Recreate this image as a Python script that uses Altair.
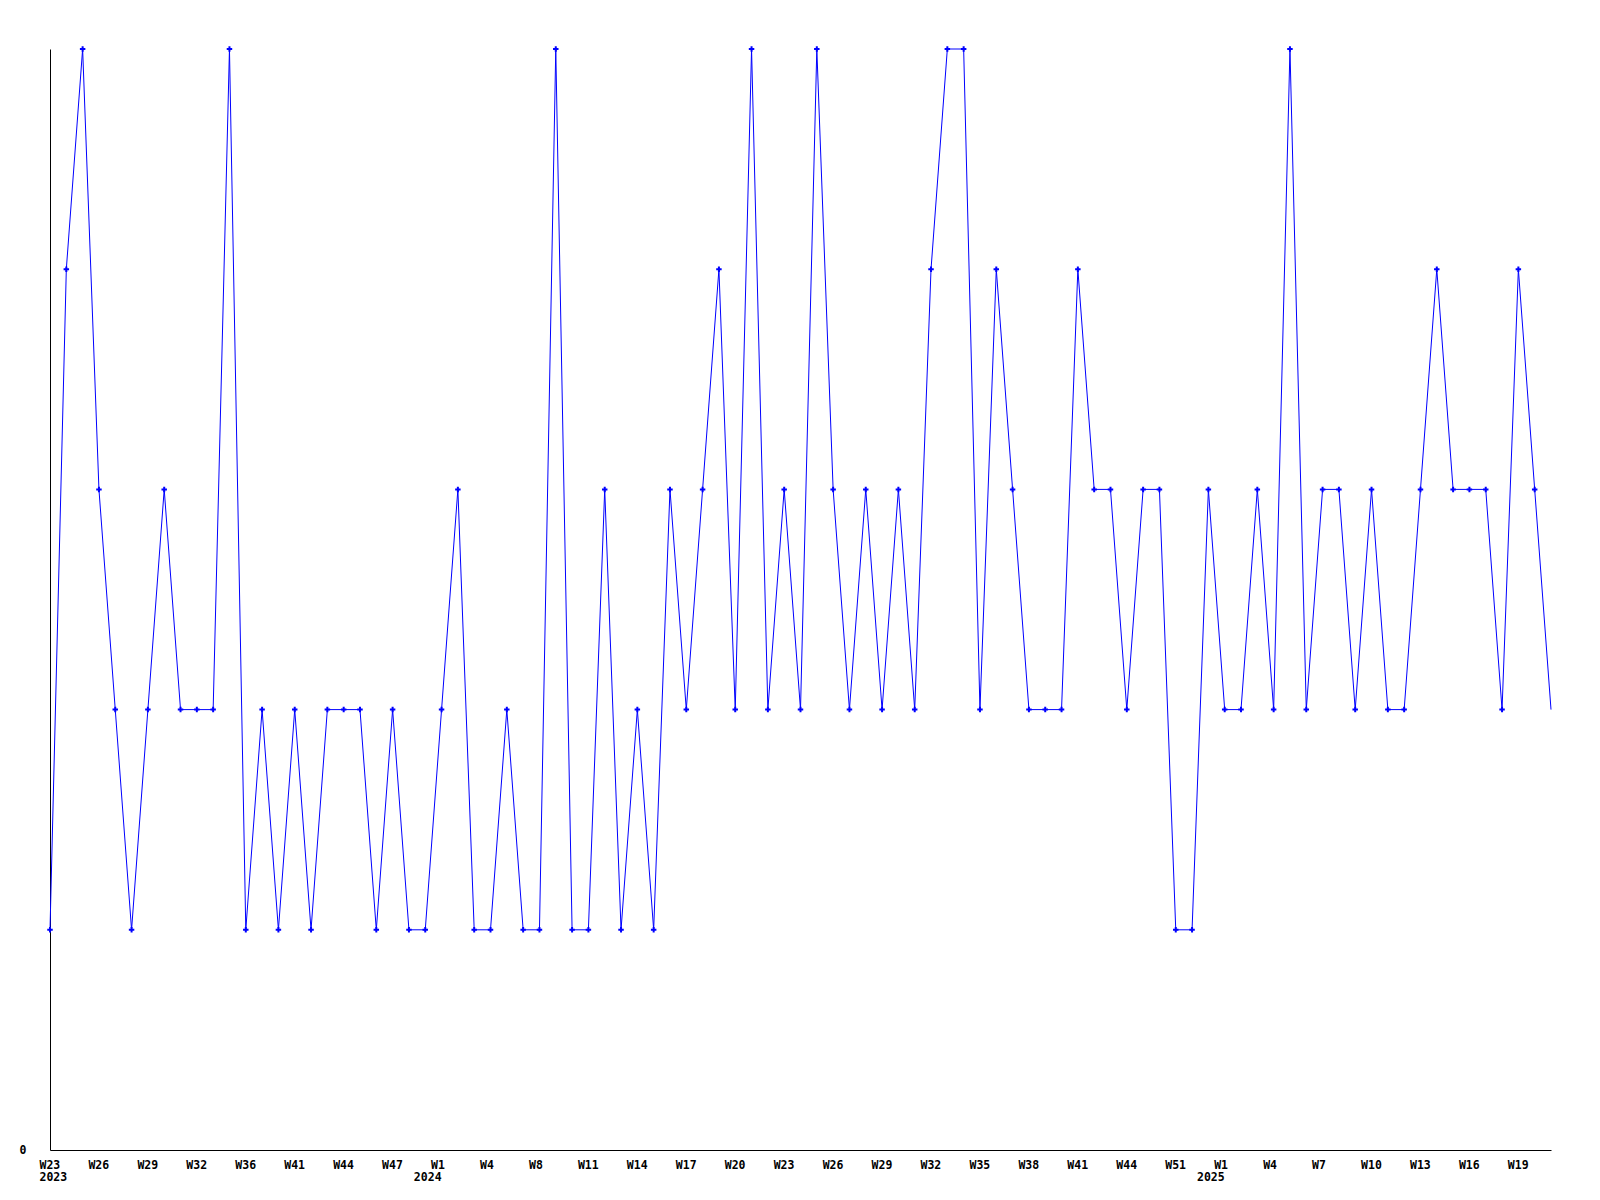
import json
import altair as alt
import pandas as pd

# ---- data ----
values = [
    1, 4, 5, 3, 2, 1, 2, 3, 2, 2, 2, 5, 1, 2, 1, 2, 1, 2, 2, 2, 1, 2, 1, 1,
    2, 3, 1, 1, 2, 1, 1, 5, 1, 1, 3, 1, 2, 1, 3, 2, 3, 4, 2, 5, 2, 3, 2, 5,
    3, 2, 3, 2, 3, 2, 4, 5, 5, 2, 4, 3, 2, 2, 2, 4, 3, 3, 2, 3, 3, 1, 1, 3,
    2, 2, 3, 2, 5, 2, 3, 3, 2, 3, 2, 2, 3, 4, 3, 3, 3, 2, 4, 3, 2,
]
tick_labels = [
    "W23", "W26", "W29", "W32", "W36", "W41", "W44", "W47", "W1", "W4", "W8",
    "W11", "W14", "W17", "W20", "W23", "W26", "W29", "W32", "W35", "W38",
    "W41", "W44", "W51", "W1", "W4", "W7", "W10", "W13", "W16", "W19",
]
tick_step = 3
year_labels = ["2023", "2024", "2025"]
year_tick_index = [0, 8, 24]  # positions in tick_labels list

# ---- tables ----
n = len(values)
df = pd.DataFrame({"idx": list(range(n)), "v": values})
tick_vals = [i * tick_step for i in range(len(tick_labels))]
years_df = pd.DataFrame({
    "idx": [year_tick_index[i] * tick_step for i in range(len(year_labels))],
    "year": year_labels,
})

W, H = 1501, 1101
FONT = "DejaVu Sans Mono"
BLUE = "#0000ff"

xscale = alt.Scale(domain=[0, n - 1], nice=False, zero=False)
yscale = alt.Scale(domain=[0, 5], nice=False)

label_expr = f"{json.dumps(tick_labels)}[round(datum.value/{tick_step})]"

base = alt.Chart(df)

line = base.mark_line(color=BLUE, strokeWidth=1, interpolate="linear").encode(
    x=alt.X("idx:Q", scale=xscale, title=None,
            axis=alt.Axis(values=tick_vals, labelExpr=label_expr, ticks=False,
                          grid=False, domainColor="black", domainWidth=1,
                          labelFont=FONT, labelFontWeight="bold", labelFontSize=11.5,
                          labelColor="black", labelAlign="left", labelOffset=-11,
                          labelBaseline="alphabetic", labelPadding=18,
                          labelFlush=False, labelOverlap=False, labelBound=False)),
    y=alt.Y("v:Q", scale=yscale, title=None,
            axis=alt.Axis(values=[0], format="d", ticks=False, grid=False,
                          domainColor="black", domainWidth=1, labelFont=FONT,
                          labelFontWeight="bold", labelFontSize=11.5,
                          labelColor="black", labelPadding=24,
                          labelAlign="right", labelBaseline="middle")),
)

points = base.transform_filter(f"datum.idx < {n - 1}").mark_point(
    shape="M-1,0H1M0,-1V1", filled=False, color=BLUE, strokeWidth=2, size=30, opacity=1
).encode(
    x=alt.X("idx:Q", scale=xscale),
    y=alt.Y("v:Q", scale=yscale),
)

year_first = alt.Chart(years_df).transform_filter("datum.idx == 0").mark_text(
    font=FONT, fontWeight="bold", fontSize=11.5, color="black",
    align="left", baseline="alphabetic", dx=-10.5,
).encode(x=alt.X("idx:Q", scale=xscale), y=alt.value(H + 31), text="year:N")

year_rest = alt.Chart(years_df).transform_filter("datum.idx > 0").mark_text(
    font=FONT, fontWeight="bold", fontSize=11.5, color="black",
    align="right", baseline="alphabetic", dx=0,
).encode(x=alt.X("idx:Q", scale=xscale), y=alt.value(H + 31), text="year:N")

chart = alt.layer(line, points, year_first, year_rest).properties(
    width=W, height=H,
    padding={"left": 42, "top": 41, "right": 30, "bottom": 42},
    autosize="none",
    background="white",
).configure_view(stroke=None)

chart.save("out.html", embed_options={"renderer": "svg", "actions": False})
